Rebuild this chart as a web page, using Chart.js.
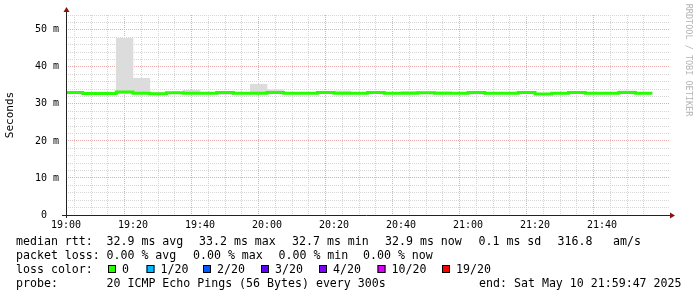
<!DOCTYPE html>
<html>
<head>
<meta charset="utf-8">
<script src="https://cdn.jsdelivr.net/npm/chart.js@4.4.1/dist/chart.umd.min.js"></script>
<style>
  html, body { margin: 0; padding: 0; background: #fff; }
  #wrap { width: 697px; height: 297px; }
</style>
</head>
<body>
<div id="wrap"><canvas id="smokeChart" width="697" height="297"></canvas></div>
<script>
// 5 minute steps, one entry per probe round
const startTimes = [
    '19:00', '19:05', '19:10', '19:15', '19:20', '19:25', '19:30', '19:35', '19:40', '19:45',
    '19:50', '19:55', '20:00', '20:05', '20:10', '20:15', '20:20', '20:25', '20:30', '20:35',
    '20:40', '20:45', '20:50', '20:55', '21:00', '21:05', '21:10', '21:15', '21:20', '21:25',
    '21:30', '21:35', '21:40', '21:45', '21:50'
];
// median rtt in ms
const medianRtt = [
    33.1, 32.8, 32.8, 33.2, 32.9, 32.75, 33.0, 32.9, 32.9, 33.1,
    32.9, 32.9, 33.1, 32.9, 32.9, 33.1, 32.9, 32.9, 33.1, 32.9,
    32.9, 33.0, 32.9, 32.9, 33.1, 32.9, 32.9, 33.1, 32.7, 32.9,
    33.1, 32.9, 32.9, 33.1, 32.9
];
// smoke (spread of the 20 pings), ms
const smokeLow = [
    32.9, 32.6, 32.6, 32.8, 32.7, 32.6, 32.8, 32.8, 32.7, 32.5,
    32.7, 32.7, 32.9, 32.7, 32.7, 32.9, 32.7, 32.7, 32.9, 32.7,
    32.7, 32.8, 32.7, 32.7, 32.6, 32.7, 32.7, 32.9, 32.5, 32.7,
    32.9, 32.7, 32.7, 32.8, 32.7
];
const smokeHigh = [
    33.3, 33.0, 33.0, 47.7, 36.9, 33.0, 33.2, 33.7, 33.1, 33.3,
    33.1, 35.3, 33.8, 33.1, 33.1, 33.3, 33.5, 33.1, 33.3, 33.1,
    33.4, 33.2, 33.3, 33.1, 33.3, 33.1, 33.1, 33.3, 32.9, 33.1,
    33.3, 33.1, 33.1, 33.5, 33.1
];
const yTickValues = [0, 10, 20, 30, 40, 50];
const xTickLabels = ['19:00', '19:20', '19:40', '20:00', '20:20', '20:40', '21:00', '21:20', '21:40'];
const lossLabels = ['0', '1/20', '2/20', '3/20', '4/20', '10/20', '19/20'];
const lossColors = ['#26ff00', '#00b8ff', '#0059ff', '#5e00ff', '#7e00ff', '#dd00ff', '#ff0000'];

const STEP = 5;
const MONO = "'DejaVu Sans Mono', monospace";

function toMin(t) {
    const parts = t.split(':').map(Number);
    return (parts[0] - 19) * 60 + parts[1];
}

const medianPoints = startTimes.map((t, i) => ({ x: toMin(t), y: medianRtt[i] }));
medianPoints.push({ x: toMin(startTimes[startTimes.length - 1]) + STEP, y: medianRtt[medianRtt.length - 1] });
const smokePoints = startTimes.map((t, i) => ({ x: toMin(t) + STEP / 2, y: [smokeLow[i], smokeHigh[i]] }));

const majorGrid = '#e6acac';
const minorGrid = '#d6d6d6';

// axes arrows, watermark and the rrdtool style legend below the plot
const extrasPlugin = {
    id: 'extras',
    afterDraw(chart) {
        const ctx = chart.ctx;
        const a = chart.chartArea;
        ctx.save();
        ctx.strokeStyle = '#222';
        ctx.lineWidth = 1;
        ctx.beginPath();
        ctx.moveTo(a.left - 4, a.bottom + 0.5);
        ctx.lineTo(a.right + 2, a.bottom + 0.5);
        ctx.moveTo(a.left + 0.5, a.top - 4);
        ctx.lineTo(a.left + 0.5, a.bottom + 3);
        ctx.stroke();

        ctx.fillStyle = '#8b1010';
        ctx.beginPath();
        ctx.moveTo(a.right + 1, a.bottom - 2.5);
        ctx.lineTo(a.right + 6, a.bottom + 0.5);
        ctx.lineTo(a.right + 1, a.bottom + 3.5);
        ctx.closePath();
        ctx.fill();
        ctx.beginPath();
        ctx.moveTo(a.left - 2.5, a.top - 3);
        ctx.lineTo(a.left + 0.5, a.top - 8);
        ctx.lineTo(a.left + 3.5, a.top - 3);
        ctx.closePath();
        ctx.fill();

        // watermark
        ctx.save();
        ctx.translate(688, 60);
        ctx.rotate(Math.PI / 2);
        ctx.fillStyle = '#b4b4b4';
        ctx.font = '8.5px ' + MONO;
        ctx.textAlign = 'center';
        ctx.textBaseline = 'middle';
        ctx.fillText('RRDTOOL / TOBI OETIKER', 0, 0);
        ctx.restore();

        // legend
        ctx.fillStyle = '#000';
        ctx.font = '11.6px ' + MONO;
        ctx.textBaseline = 'alphabetic';
        ctx.textAlign = 'left';
        const line1 = [[16, 'median rtt:'], [106.5, '32.9 ms avg'], [199, '33.2 ms max'], [292, '32.7 ms min'],
                       [385, '32.9 ms now'], [478.5, '0.1 ms sd'], [557.5, '316.8'], [613, 'am/s']];
        const line2 = [[16, 'packet loss:'], [106.5, '0.00 % avg'], [193, '0.00 % max'], [278.5, '0.00 % min'],
                       [363, '0.00 % now']];
        line1.forEach(p => ctx.fillText(p[1], p[0], 245));
        line2.forEach(p => ctx.fillText(p[1], p[0], 259));
        ctx.fillText('loss color:', 16, 273);
        const boxX = [108, 146.5, 203, 261, 319, 377.5, 442];
        lossLabels.forEach((lab, i) => {
            ctx.fillStyle = lossColors[i];
            ctx.fillRect(boxX[i], 265, 8, 8);
            ctx.strokeStyle = '#000';
            ctx.strokeRect(boxX[i] + 0.5, 265.5, 7, 7);
            ctx.fillStyle = '#000';
            ctx.fillText(lab, boxX[i] + 14, 273);
        });
        ctx.fillText('probe:', 16, 287);
        ctx.fillText('20 ICMP Echo Pings (56 Bytes) every 300s', 106.5, 287);
        ctx.textAlign = 'right';
        ctx.fillText('end: Sat May 10 21:59:47 2025', 681.5, 287);
        ctx.restore();
    }
};

const ctx = document.getElementById('smokeChart').getContext('2d');
new Chart(ctx, {
    type: 'bar',
    data: {
        datasets: [{
            type: 'line',
            label: 'median rtt',
            data: medianPoints,
            borderColor: '#26ff00',
            borderWidth: 3,
            stepped: 'before',
            pointRadius: 0,
            fill: false,
            order: 1
        }, {
            type: 'bar',
            label: 'smoke',
            data: smokePoints,
            backgroundColor: '#dcdcdc',
            borderWidth: 0,
            barPercentage: 1,
            categoryPercentage: 1,
            order: 2
        }]
    },
    options: {
        responsive: false,
        animation: false,
        devicePixelRatio: 1,
        layout: { padding: { top: 15, right: 28, bottom: 60, left: 0 } },
        plugins: {
            legend: { display: false },
            tooltip: { enabled: false }
        },
        scales: {
            x: {
                type: 'linear',
                min: 0,
                max: 180,
                offset: false,
                afterFit: function(scale) { scale.height = 22; },
                border: { display: false, dash: [1, 1] },
                grid: {
                    color: function(c) {
                        const v = c.tick ? c.tick.value : 0;
                        if (v === 0 || v === 180) return 'rgba(0,0,0,0)';
                        return v % 20 === 0 ? majorGrid : minorGrid;
                    },
                    tickLength: 3,
                    tickColor: 'rgba(0,0,0,0)'
                },
                ticks: {
                    stepSize: 5,
                    autoSkip: false,
                    maxRotation: 0,
                    padding: 1,
                    color: '#000',
                    font: { family: MONO, size: 10 },
                    callback: function(value) {
                        if (value % 20 === 0 && value < 180) return xTickLabels[value / 20];
                        return '';
                    }
                }
            },
            y: {
                min: 0,
                max: 54,
                afterFit: function(scale) { scale.width = 66; },
                border: { display: false, dash: [1, 1] },
                title: {
                    display: true,
                    text: 'Seconds',
                    color: '#000',
                    font: { family: MONO, size: 11 },
                    padding: { top: 4, bottom: 0 }
                },
                grid: {
                    color: function(c) {
                        const v = c.tick ? c.tick.value : 0;
                        if (v === 0) return 'rgba(0,0,0,0)';
                        return yTickValues.includes(v) ? majorGrid : minorGrid;
                    },
                    tickLength: 3,
                    tickColor: 'rgba(0,0,0,0)'
                },
                ticks: {
                    stepSize: 2,
                    autoSkip: false,
                    padding: 4,
                    color: '#000',
                    font: { family: MONO, size: 10 },
                    callback: function(value) {
                        if (!yTickValues.includes(value)) return '';
                        return value === 0 ? '0  ' : value + ' m';
                    }
                }
            }
        }
    },
    plugins: [extrasPlugin]
});
</script>
</body>
</html>
